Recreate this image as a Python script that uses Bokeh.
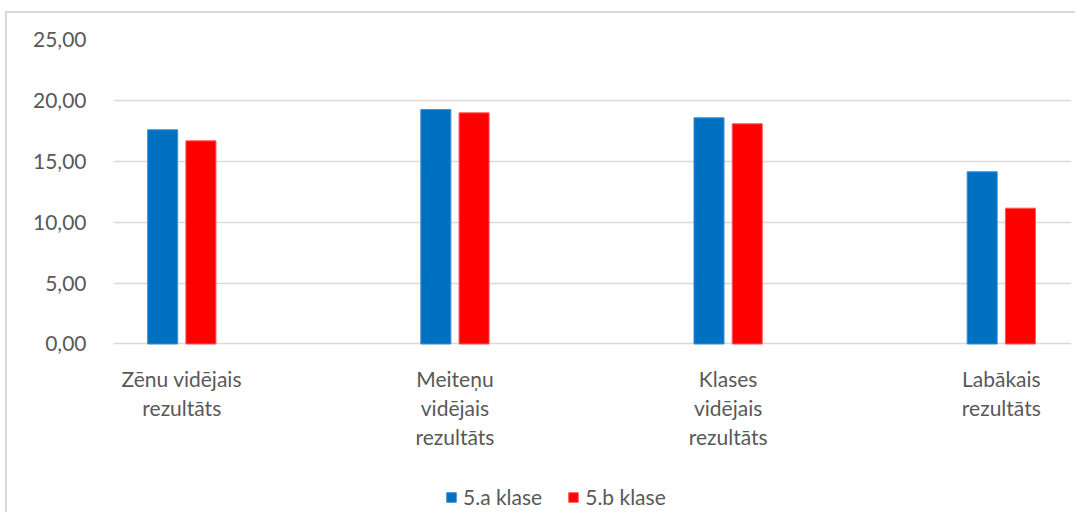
import numpy as np
from bokeh.plotting import figure
from bokeh.models import ColumnDataSource, Range1d, FixedTicker, Legend, LegendItem
from bokeh.core.properties import value
from bokeh.embed import file_html
from bokeh.resources import INLINE

# ---- data ----
categories = ["Zēnu vidējais rezultāts", "Meiteņu vidējais rezultāts",
              "Klases vidējais rezultāts", "Labākais rezultāts"]
category_labels = ["Zēnu vidējais\nrezultāts", "Meiteņu\nvidējais\nrezultāts",
                   "Klases\nvidējais\nrezultāts", "Labākais\nrezultāts"]
series_names = ["5.a klase", "5.b klase"]
values_5a = [17.59, 19.25, 18.57, 14.14]
values_5b = [16.68, 18.98, 18.08, 11.15]
y_ticks = [0, 5, 10, 15, 20, 25]
y_tick_labels = ["0,00", "5,00", "10,00", "15,00", "20,00", "25,00"]

# ---- style ----
FONT = "Lato"
TXT = "#595959"
BLUE = "#0070C0"
RED = "#FF0000"
offset = 0.07
bar_w = 0.11

idx = np.arange(len(categories))
src = ColumnDataSource(dict(
    x=idx, x_a=idx - offset, x_b=idx + offset, base=np.zeros(len(idx)),
    a=values_5a, b=values_5b, cat=categories, label=category_labels))

p = figure(width=1070, height=501, output_backend="svg", toolbar_location=None,
           x_range=Range1d(-0.25, 3.257), y_range=Range1d(-14.0, 25),
           min_border_left=106, min_border_right=6, min_border_top=26,
           min_border_bottom=0)
p.styles = {"border-top": "2px solid #d9d9d9", "border-left": "2px solid #d9d9d9",
            "margin-top": "11px", "margin-left": "5px"}

r_a = p.vbar(x="x_a", top="a", width=bar_w, source=src,
             fill_color=BLUE, line_color="#3d8fd0", line_width=1)
r_b = p.vbar(x="x_b", top="b", width=bar_w, source=src,
             fill_color=RED, line_color="#ff5a5a", line_width=1)

# category labels below the zero line
p.text(x="x", y="base", text="label", source=src, text_align="center",
       text_baseline="top", y_offset=22, text_font=value(FONT),
       text_font_size="21px", text_color=TXT, text_line_height=1.17)

p.outline_line_color = None
p.xgrid.visible = False
p.xaxis.visible = False
p.ygrid.grid_line_color = "#d9d9d9"
p.ygrid.grid_line_width = 1.5

p.yaxis.ticker = FixedTicker(ticks=y_ticks)
p.yaxis.major_label_overrides = {t: l for t, l in zip(y_ticks, y_tick_labels)}
ax = p.yaxis[0]
ax.axis_line_color = None
ax.major_tick_line_color = None
ax.minor_tick_line_color = None
ax.major_label_text_font = FONT
ax.major_label_text_font_size = "21px"
ax.major_label_text_color = TXT
ax.major_label_standoff = 21

legend = Legend(items=[LegendItem(label=series_names[0], renderers=[r_a]),
                       LegendItem(label=series_names[1], renderers=[r_b])],
                orientation="horizontal", location=(332, 5),
                glyph_width=12, glyph_height=12, label_standoff=6, spacing=25,
                padding=0, margin=0, border_line_color=None,
                background_fill_alpha=0,
                label_text_font=FONT, label_text_font_size="21px",
                label_text_color=TXT, label_height=12)
p.add_layout(legend, "center")

open("out.html", "w").write(file_html(p, INLINE))
